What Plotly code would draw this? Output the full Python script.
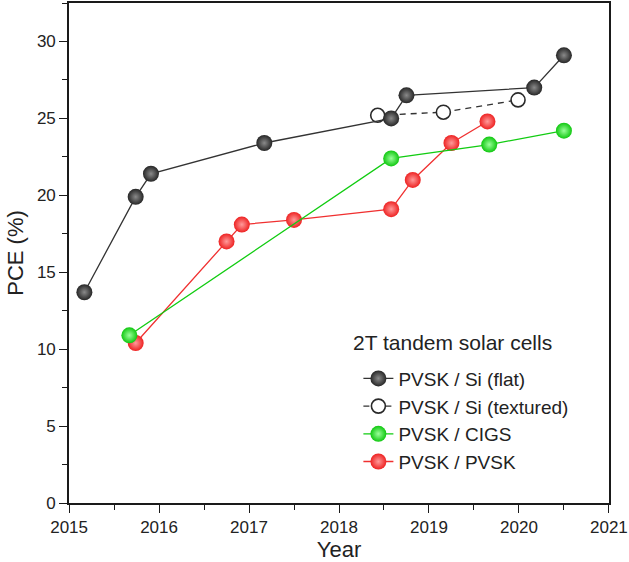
import plotly.graph_objects as go

# ---- data ----
flat_year = [2015.17, 2015.74, 2015.91, 2017.17, 2018.58, 2018.75, 2020.17, 2020.50]
flat_pce = [13.7, 19.9, 21.4, 23.4, 25.0, 26.5, 27.0, 29.1]

tex_year = [2018.43, 2019.16, 2019.99]
tex_pce = [25.2, 25.4, 26.2]

cigs_year = [2015.67, 2018.58, 2019.67, 2020.50]
cigs_pce = [10.9, 22.4, 23.3, 24.2]

pvsk_year = [2015.74, 2016.75, 2016.92, 2017.50, 2018.58, 2018.82, 2019.25, 2019.65]
pvsk_pce = [10.4, 17.0, 18.1, 18.4, 19.1, 21.0, 23.4, 24.8]

x_ticks = [2015, 2016, 2017, 2018, 2019, 2020, 2021]
y_ticks = [0, 5, 10, 15, 20, 25, 30]

legend_title = "2T tandem solar cells"

FONT = "Liberation Sans, Arial, sans-serif"
AX = "#1a1a1a"

fig = go.Figure()

# draw order: textured, flat, red, green ; legend order via legendrank
fig.add_trace(go.Scatter(
    x=tex_year, y=tex_pce, mode="lines+markers", name="PVSK / Si (textured)",
    line=dict(color="#333333", width=1.3, dash="6px,5px"),
    marker=dict(symbol="circle", size=14, color="white",
                line=dict(color="#2a2a2a", width=1.6)),
    legendrank=2, legendgroup="b",
))
fig.add_trace(go.Scatter(
    x=flat_year, y=flat_pce, mode="lines+markers", name="PVSK / Si (flat)",
    line=dict(color="#333333", width=1.3),
    marker=dict(symbol="circle", size=16, color="#262626",
                gradient=dict(type="radial", color="#8a8a8a"),
                line=dict(width=0)),
    legendrank=1, legendgroup="a",
))
fig.add_trace(go.Scatter(
    x=pvsk_year, y=pvsk_pce, mode="lines+markers", name="PVSK / PVSK",
    line=dict(color="#f03030", width=1.3),
    marker=dict(symbol="circle", size=16, color="#ee2222",
                gradient=dict(type="radial", color="#ff9a9a"),
                line=dict(width=0)),
    legendrank=4, legendgroup="d",
))
fig.add_trace(go.Scatter(
    x=cigs_year, y=cigs_pce, mode="lines+markers", name="PVSK / CIGS",
    line=dict(color="#11cc11", width=1.3),
    marker=dict(symbol="circle", size=16, color="#10c810",
                gradient=dict(type="radial", color="#9aff9a"),
                line=dict(width=0)),
    legendrank=3, legendgroup="c",
))

axis_common = dict(
    showline=True, linecolor=AX, linewidth=1.6, mirror=True,
    ticks="outside", ticklen=8, tickwidth=1.4, tickcolor=AX,
    showgrid=False, zeroline=False, ticklabeloverflow="allow",
    tickfont=dict(family=FONT, size=17, color="#222"),
    title_font=dict(family=FONT, size=22, color="#222"),
)

fig.update_xaxes(
    range=[2014.999, 2021.001], tickvals=x_ticks, ticktext=[str(v) for v in x_ticks],
    minor=dict(ticks="outside", dtick=0.5, tick0=2015, ticklen=5, tickwidth=1.2, tickcolor=AX),
    title_text="Year", title_standoff=6,
    **axis_common,
)
fig.update_yaxes(
    range=[0, 32.5], tickvals=y_ticks, ticktext=[str(v) for v in y_ticks],
    minor=dict(ticks="outside", dtick=2.5, tick0=0, ticklen=5, tickwidth=1.2, tickcolor=AX),
    title_text="PCE (%)", title_standoff=7,
    **axis_common,
)

fig.add_annotation(
    text=legend_title, xref="paper", yref="paper",
    x=(353 - 69) / 543, y=(503 - 342) / 502, xanchor="left", yanchor="middle",
    showarrow=False, font=dict(family=FONT, size=21, color="#222"),
)

fig.update_layout(
    width=629, height=562,
    margin=dict(l=69, r=17, t=1, b=59),
    paper_bgcolor="white", plot_bgcolor="white",
    font=dict(family=FONT, color="#222"),
    showlegend=True,
    legend=dict(
        x=(360 - 69) / 543, y=(503 - 359) / 502, xanchor="left", yanchor="top",
        bgcolor="rgba(0,0,0,0)", borderwidth=0,
        font=dict(family=FONT, size=19, color="#222"),
        traceorder="grouped", tracegroupgap=0,
        itemwidth=30,
    ),
)

fig.write_html(
    "out.html",
    config={"displayModeBar": False},
    post_script="document.body.style.margin='0';document.body.style.overflow='hidden';",
)
